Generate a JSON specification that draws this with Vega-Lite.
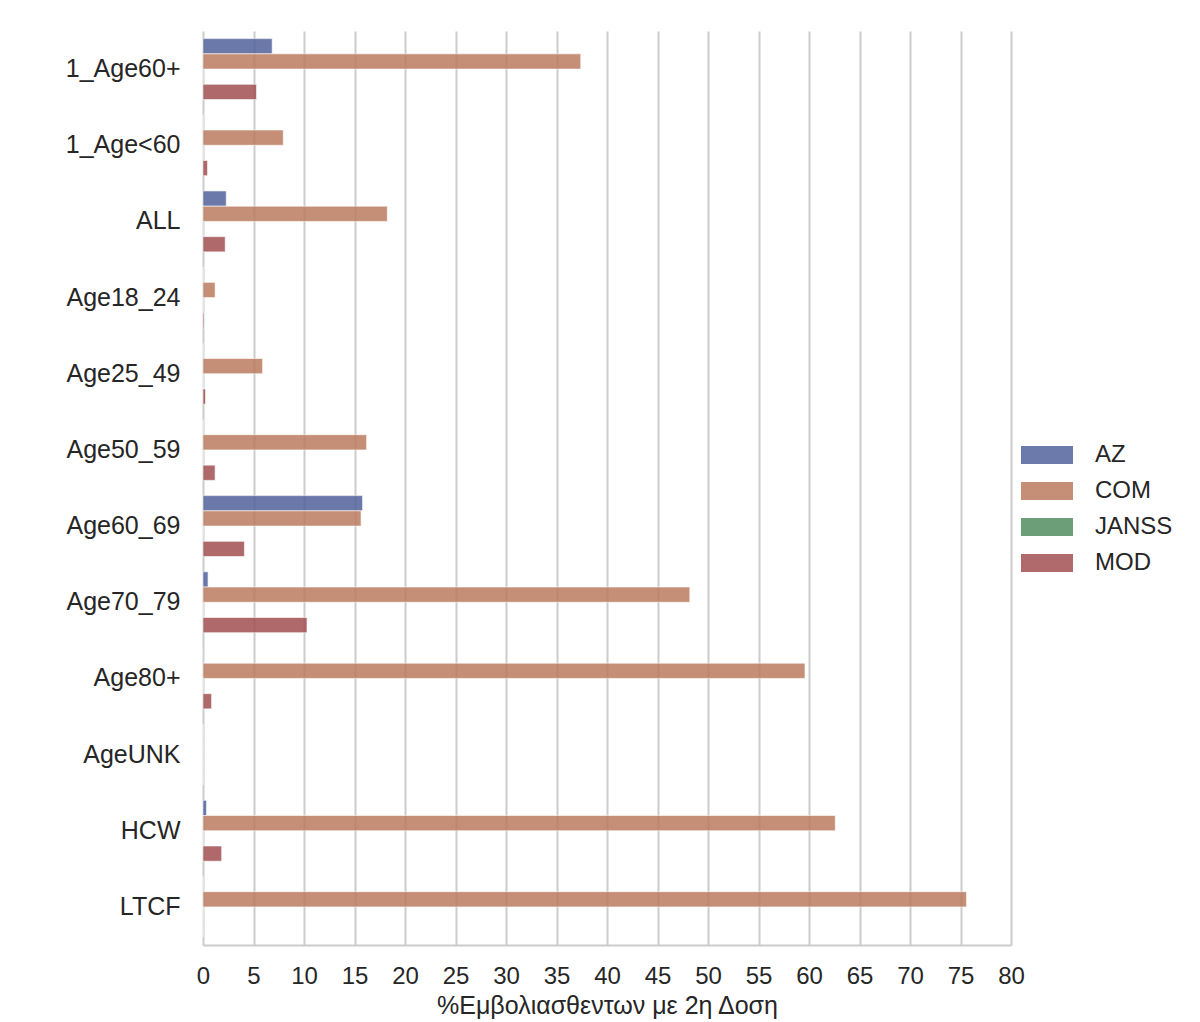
{
  "$schema": "https://vega.github.io/schema/vega-lite/v6.json",
  "width": 808,
  "height": 914,
  "autosize": "none",
  "padding": {"left": 203, "top": 31, "right": 189, "bottom": 77},
  "background": "white",
  "config": {
    "view": {"stroke": null},
    "font": "Liberation Sans"
  },
  "data": {
    "values": [
      {"group": "1_Age60+", "vaccine": "AZ", "pct": 6.85},
      {"group": "1_Age60+", "vaccine": "COM", "pct": 37.4},
      {"group": "1_Age60+", "vaccine": "JANSS", "pct": 0.02},
      {"group": "1_Age60+", "vaccine": "MOD", "pct": 5.3},
      {"group": "1_Age<60", "vaccine": "AZ", "pct": 0},
      {"group": "1_Age<60", "vaccine": "COM", "pct": 7.95},
      {"group": "1_Age<60", "vaccine": "JANSS", "pct": 0},
      {"group": "1_Age<60", "vaccine": "MOD", "pct": 0.45},
      {"group": "ALL", "vaccine": "AZ", "pct": 2.3},
      {"group": "ALL", "vaccine": "COM", "pct": 18.25},
      {"group": "ALL", "vaccine": "JANSS", "pct": 0.03},
      {"group": "ALL", "vaccine": "MOD", "pct": 2.2},
      {"group": "Age18_24", "vaccine": "AZ", "pct": 0},
      {"group": "Age18_24", "vaccine": "COM", "pct": 1.2},
      {"group": "Age18_24", "vaccine": "JANSS", "pct": 0},
      {"group": "Age18_24", "vaccine": "MOD", "pct": 0.1},
      {"group": "Age25_49", "vaccine": "AZ", "pct": 0},
      {"group": "Age25_49", "vaccine": "COM", "pct": 5.9},
      {"group": "Age25_49", "vaccine": "JANSS", "pct": 0},
      {"group": "Age25_49", "vaccine": "MOD", "pct": 0.25},
      {"group": "Age50_59", "vaccine": "AZ", "pct": 0},
      {"group": "Age50_59", "vaccine": "COM", "pct": 16.2},
      {"group": "Age50_59", "vaccine": "JANSS", "pct": 0},
      {"group": "Age50_59", "vaccine": "MOD", "pct": 1.2},
      {"group": "Age60_69", "vaccine": "AZ", "pct": 15.8},
      {"group": "Age60_69", "vaccine": "COM", "pct": 15.65},
      {"group": "Age60_69", "vaccine": "JANSS", "pct": 0},
      {"group": "Age60_69", "vaccine": "MOD", "pct": 4.1},
      {"group": "Age70_79", "vaccine": "AZ", "pct": 0.5},
      {"group": "Age70_79", "vaccine": "COM", "pct": 48.2},
      {"group": "Age70_79", "vaccine": "JANSS", "pct": 0},
      {"group": "Age70_79", "vaccine": "MOD", "pct": 10.3},
      {"group": "Age80+", "vaccine": "AZ", "pct": 0.07},
      {"group": "Age80+", "vaccine": "COM", "pct": 59.6},
      {"group": "Age80+", "vaccine": "JANSS", "pct": 0},
      {"group": "Age80+", "vaccine": "MOD", "pct": 0.85},
      {"group": "AgeUNK", "vaccine": "AZ", "pct": 0},
      {"group": "AgeUNK", "vaccine": "COM", "pct": 0},
      {"group": "AgeUNK", "vaccine": "JANSS", "pct": 0},
      {"group": "AgeUNK", "vaccine": "MOD", "pct": 0},
      {"group": "HCW", "vaccine": "AZ", "pct": 0.35},
      {"group": "HCW", "vaccine": "COM", "pct": 62.6},
      {"group": "HCW", "vaccine": "JANSS", "pct": 0},
      {"group": "HCW", "vaccine": "MOD", "pct": 1.85},
      {"group": "LTCF", "vaccine": "AZ", "pct": 0},
      {"group": "LTCF", "vaccine": "COM", "pct": 75.6},
      {"group": "LTCF", "vaccine": "JANSS", "pct": 0},
      {"group": "LTCF", "vaccine": "MOD", "pct": 0}
    ]
  },
  "mark": {
    "type": "bar",
    "opacity": 0.85,
    "stroke": "white",
    "strokeWidth": 1,
    "strokeOpacity": 0.6
  },
  "encoding": {
    "y": {
      "field": "group",
      "type": "nominal",
      "sort": null,
      "scale": {"paddingInner": 0.2, "paddingOuter": 0.1},
      "axis": {
        "title": null,
        "ticks": false,
        "domain": false,
        "grid": false,
        "labelFontSize": 25,
        "labelColor": "#262626",
        "labelPadding": 23
      }
    },
    "yOffset": {
      "field": "vaccine",
      "type": "nominal",
      "sort": ["AZ", "COM", "JANSS", "MOD"],
      "scale": {"paddingInner": 0, "paddingOuter": 0}
    },
    "x": {
      "field": "pct",
      "type": "quantitative",
      "scale": {"domain": [0, 80], "nice": false},
      "axis": {
        "title": "%Εμβολιασθεντων με 2η Δοση",
        "titleFontSize": 25,
        "titleFontWeight": "normal",
        "titleColor": "#262626",
        "titlePadding": 5,
        "values": [0, 5, 10, 15, 20, 25, 30, 35, 40, 45, 50, 55, 60, 65, 70, 75, 80],
        "labelFontSize": 24,
        "labelColor": "#262626",
        "labelPadding": 19,
        "labelFlush": false,
        "labelOverlap": false,
        "ticks": false,
        "domainColor": "#cccccc",
        "domainWidth": 2,
        "grid": true,
        "gridColor": "#cccccc",
        "gridWidth": 2
      }
    },
    "color": {
      "field": "vaccine",
      "type": "nominal",
      "scale": {
        "domain": ["AZ", "COM", "JANSS", "MOD"],
        "range": ["#51629c", "#bb7b5f", "#528d60", "#a25052"]
      },
      "legend": {
        "title": null,
        "orient": "none",
        "legendX": 832,
        "legendY": 412,
        "padding": 0,
        "symbolType": "M-2.6,-0.9 L2.6,-0.9 L2.6,0.9 L-2.6,0.9 Z",
        "symbolSize": 400,
        "symbolStrokeWidth": 0,
        "symbolOpacity": 0.85,
        "labelFontSize": 24,
        "labelColor": "#262626",
        "labelOffset": 36,
        "rowPadding": 12
      }
    }
  }
}
